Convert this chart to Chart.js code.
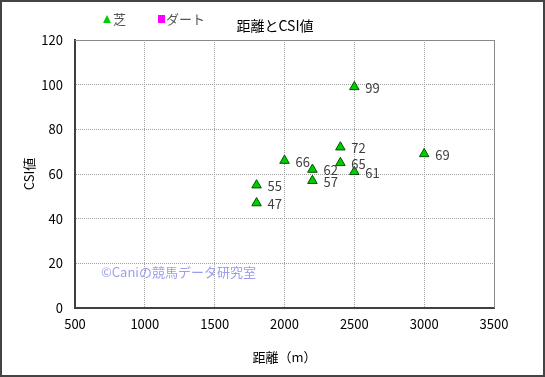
<!DOCTYPE html>
<html>
<head>
<meta charset="utf-8">
<script src="https://cdn.jsdelivr.net/npm/chart.js@4/dist/chart.umd.min.js"></script>
<style>
  html, body { margin: 0; padding: 0; background: #fff; }
  #wrap { width: 545px; height: 377px; }
</style>
</head>
<body>
<div id="wrap"><canvas id="csiChart" width="545" height="377"></canvas></div>
<script>
// 芝 data: distance (m) and CSI value
const turfDistance = [2500, 2400, 2400, 2500, 2000, 2200, 2200, 1800, 1800, 3000];
const turfCsi      = [99,   72,   65,   61,   66,   62,   57,   55,   47,   69];
// ダート data (none in this chart)
const dirtDistance = [];
const dirtCsi = [];

const xTicks = [500, 1000, 1500, 2000, 2500, 3000, 3500];
const yTicks = [0, 20, 40, 60, 80, 100, 120];

const FONT = "'Noto Sans CJK JP', 'DejaVu Sans', sans-serif";

const toPoints = (xs, ys) => xs.map((x, i) => ({ x: x, y: ys[i] }));

// value labels, frame, legend, title, watermark
const decorPlugin = {
    id: "decor",
    afterDatasetsDraw(chart) {
        const ctx = chart.ctx;
        const area = chart.chartArea;
        ctx.save();
        // frame top/right
        ctx.strokeStyle = "#8a8a8a";
        ctx.lineWidth = 1;
        ctx.beginPath();
        ctx.moveTo(area.left, area.top + 0.5);
        ctx.lineTo(area.right + 0.5, area.top + 0.5);
        ctx.lineTo(area.right + 0.5, area.bottom);
        ctx.stroke();

        // point labels
        ctx.fillStyle = "#404040";
        ctx.font = "13px " + FONT;
        ctx.textBaseline = "middle";
        ctx.textAlign = "left";
        const meta = chart.getDatasetMeta(0);
        meta.data.forEach((pt, i) => {
            ctx.fillText(String(turfCsi[i]), pt.x + 11, pt.y + 1);
        });

        // watermark
        ctx.fillStyle = "#9c9cf0";
        ctx.font = "13px " + FONT;
        ctx.fillText("©Caniの競馬データ研究室", 101, 272);

        // legend
        ctx.fillStyle = "#00cc00";
        ctx.strokeStyle = "#006600";
        ctx.beginPath();
        ctx.moveTo(107, 15);
        ctx.lineTo(111, 23);
        ctx.lineTo(103, 23);
        ctx.closePath();
        ctx.fill();
        ctx.fillStyle = "#555";
        ctx.font = "13px " + FONT;
        ctx.fillText("芝", 113, 19);
        ctx.fillStyle = "#ff00ff";
        ctx.fillRect(158, 15, 7, 8);
        ctx.fillStyle = "#555";
        ctx.fillText("ダート", 166, 19);

        // title
        ctx.fillStyle = "#000";
        ctx.font = "14px " + FONT;
        ctx.textAlign = "center";
        ctx.fillText("距離とCSI値", 275, 26);

        // outer border
        ctx.strokeStyle = "#444";
        ctx.lineWidth = 2;
        ctx.strokeRect(1, 1, chart.width - 2, chart.height - 2);
        ctx.restore();
    }
};

new Chart(document.getElementById("csiChart"), {
    type: "scatter",
    data: {
        datasets: [
            {
                label: "芝",
                data: toPoints(turfDistance, turfCsi),
                pointStyle: "triangle",
                pointRadius: 5.5,
                pointHoverRadius: 5.5,
                backgroundColor: "#00cc00",
                borderColor: "#005500",
                borderWidth: 1
            },
            {
                label: "ダート",
                data: toPoints(dirtDistance, dirtCsi),
                pointStyle: "rect",
                pointRadius: 4,
                backgroundColor: "#ff00ff",
                borderColor: "#ff00ff"
            }
        ]
    },
    options: {
        responsive: false,
        animation: false,
        layout: { padding: { top: 40, right: 51, left: 0, bottom: 0 } },
        plugins: {
            legend: { display: false },
            title: { display: false },
            tooltip: { enabled: false }
        },
        scales: {
            x: {
                type: "linear",
                min: 500,
                max: 3500,
                afterBuildTicks: axis => { axis.ticks = xTicks.map(v => ({ value: v })); },
                afterFit: axis => { axis.height = 69; },
                ticks: {
                    color: "#000",
                    font: { family: FONT, size: 13 },
                    padding: 8,
                    maxRotation: 0,
                    callback: v => String(v)
                },
                grid: {
                    color: "#a0a0a0",
                    drawTicks: false
                },
                border: { color: "#404040", width: 2, dash: [1, 1] },
                title: {
                    display: true,
                    text: "距離（m）",
                    color: "#000",
                    font: { family: FONT, size: 13 },
                    padding: { top: 4, bottom: 12 }
                }
            },
            y: {
                min: 0,
                max: 120,
                afterBuildTicks: axis => { axis.ticks = yTicks.map(v => ({ value: v })); },
                afterFit: axis => { axis.width = 75; },
                ticks: {
                    color: "#000",
                    font: { family: FONT, size: 13 },
                    padding: 12,
                    callback: v => String(v)
                },
                grid: {
                    color: "#a0a0a0",
                    drawTicks: false
                },
                border: { color: "#404040", width: 2, dash: [1, 1] },
                title: {
                    display: true,
                    text: "CSI値",
                    color: "#000",
                    font: { family: FONT, size: 13 },
                    padding: { top: 21, bottom: 4 }
                }
            }
        }
    },
    plugins: [decorPlugin]
});
</script>
</body>
</html>
